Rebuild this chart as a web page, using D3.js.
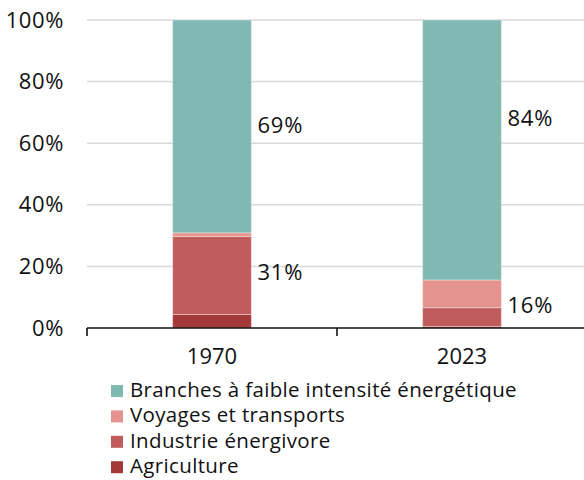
<!DOCTYPE html>
<html>
<head>
<meta charset="utf-8">
<script src="https://cdn.jsdelivr.net/npm/d3@7"></script>
<style>
  body { margin: 0; background: #fff; }
  text { font-family: "Open Sans", "Noto Sans", sans-serif; fill: #111; }
</style>
</head>
<body>
<div id="chart"></div>
<script>
// data (shares in %)
var years = ["1970", "2023"];
var series = ["Agriculture", "Industrie énergivore", "Voyages et transports", "Branches à faible intensité énergétique"];
var agriculture = [4.4, 0.5];
var industrie = [25.3, 6.1];
var voyages = [1.2, 9.0];
var branches = [69.1, 84.4];
var colors = ["#a4393a", "#c05d5c", "#e5938e", "#80b8b2"];
var yTicks = [0, 20, 40, 60, 80, 100];
// value labels: text and the height (in %) where they sit
var labelText = [["69%", "31%"], ["84%", "16%"]];
var labelAt = [[66, 18], [68, 7.5]];

var svgWidth = 584, svgHeight = 480;
var margin = { top: 20, right: -3, bottom: 152, left: 87 };
var width = svgWidth - margin.left - margin.right;
var height = svgHeight - margin.top - margin.bottom;

var svg = d3.select("#chart").append("svg")
  .attr("width", svgWidth)
  .attr("height", svgHeight);

var chartGroup = svg.append("g")
  .attr("transform", `translate(${margin.left}, ${margin.top})`);

var rows = years.map(function(y, i) {
  return { year: y, Agriculture: agriculture[i], "Industrie énergivore": industrie[i],
    "Voyages et transports": voyages[i], "Branches à faible intensité énergétique": branches[i] };
});

var x = d3.scaleBand().domain(years).range([0, width]);
var y = d3.scaleLinear().domain([0, 100]).range([height, 0]);
var barW = x.bandwidth() * 0.315;

// gridlines
chartGroup.selectAll(".grid")
  .data(yTicks.filter(d => d > 0))
  .enter().append("line")
  .attr("x1", 0).attr("x2", width)
  .attr("y1", d => y(d)).attr("y2", d => y(d))
  .attr("stroke", "#d9d9d9").attr("stroke-width", 1.5);

// y labels
var leftAxis = d3.axisLeft(y).tickValues(yTicks).tickFormat(d => d + "%").tickSize(0).tickPadding(23);
var yAxis = chartGroup.append("g").call(leftAxis);
yAxis.select(".domain").remove();
yAxis.selectAll("text").style("font-size", "22px").style("letter-spacing", "0.6px").style("fill", "#111");

// stacked bars
var stack = d3.stack().keys(series)(rows);
chartGroup.selectAll(".layer")
  .data(stack)
  .enter().append("g")
  .attr("fill", (d, i) => colors[i])
  .selectAll("rect")
  .data(d => d)
  .enter().append("rect")
  .attr("x", d => x(d.data.year) + x.bandwidth() / 2 - barW / 2)
  .attr("y", d => y(d[1]))
  .attr("width", barW)
  .attr("height", d => y(d[0]) - y(d[1]))
  .attr("stroke", "rgba(255,255,255,0.35)")
  .attr("stroke-width", 1);

// x axis
var bottomAxis = d3.axisBottom(x).tickSize(0).tickPadding(20);
var xAxis = chartGroup.append("g")
  .attr("transform", `translate(0, ${height})`)
  .call(bottomAxis);
xAxis.select(".domain").attr("stroke", "#111").attr("stroke-width", 1.6).attr("d", `M0,0H${width}`);
xAxis.selectAll("text").style("font-size", "22px").style("fill", "#111");
xAxis.selectAll(".sep")
  .data([0, x.bandwidth()])
  .enter().append("line")
  .attr("x1", d => d).attr("x2", d => d)
  .attr("y1", 0).attr("y2", 8)
  .attr("stroke", "#111").attr("stroke-width", 1.6);

// value labels
years.forEach(function(yr, i) {
  labelText[i].forEach(function(t, j) {
    chartGroup.append("text")
      .attr("x", x(yr) + x.bandwidth() / 2 + barW / 2 + 6)
      .attr("y", y(labelAt[i][j]))
      .attr("dy", "0.36em")
      .style("font-size", "22px")
      .style("letter-spacing", "0.8px")
      .text(t);
  });
});

// legend
var legend = svg.append("g").attr("transform", "translate(111, 383)");
var legendOrder = series.slice().reverse();
var legendItems = legend.selectAll(".item")
  .data(legendOrder)
  .enter().append("g")
  .attr("transform", (d, i) => `translate(0, ${i * 25.4})`);
legendItems.append("rect")
  .attr("y", 2)
  .attr("width", 12).attr("height", 12)
  .attr("fill", d => colors[series.indexOf(d)]);
legendItems.append("text")
  .attr("x", 19).attr("y", 7).attr("dy", "0.33em")
  .style("font-size", "20.5px")
  .style("letter-spacing", "0.35px")
  .text(d => d);
</script>
</body>
</html>
